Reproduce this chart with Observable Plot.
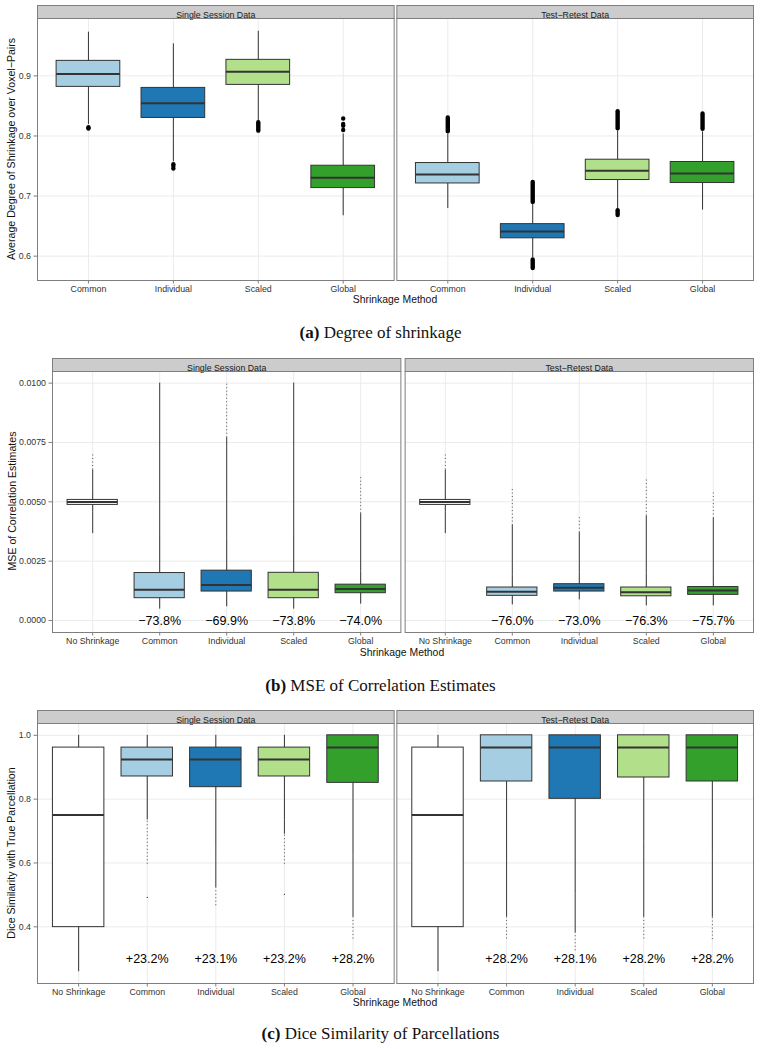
<!DOCTYPE html>
<html><head><meta charset="utf-8">
<script src="https://cdn.jsdelivr.net/npm/d3@7"></script>
<script src="https://cdn.jsdelivr.net/npm/@observablehq/plot@0.6"></script>
<style>
body{margin:0;background:#fff;}
#wrap{position:relative;width:761px;height:1049px;font-family:"Liberation Sans",Arial,sans-serif;overflow:hidden;}
.fig{position:absolute;left:0;}
.xt{position:absolute;font-size:10.4px;color:#111;transform:translateX(-50%);white-space:nowrap;line-height:12px;}
.ylab{position:absolute;font-size:10.6px;color:#111;white-space:nowrap;transform:translate(-50%,-50%) rotate(-90deg);line-height:12px;}
.cap{position:absolute;left:0;width:761px;text-align:center;font-family:"Liberation Serif","DejaVu Serif",serif;font-size:17px;line-height:20px;color:#111;}
</style>
</head><body>
<div id="wrap">
  <div class="fig" id="figA" style="top:0px"></div>
  <div class="ylab" style="left:11px;top:149px">Average Degree of Shrinkage over Voxel−Pairs</div>
  <div class="xt" style="left:395px;top:294px">Shrinkage Method</div>
  <div class="cap" style="top:323px"><b>(a)</b> Degree of shrinkage</div>

  <div class="fig" id="figB" style="top:340px"></div>
  <div class="ylab" style="left:12px;top:501px">MSE of Correlation Estimates</div>
  <div class="xt" style="left:402px;top:647px">Shrinkage Method</div>
  <div class="cap" style="top:676px"><b>(b)</b> MSE of Correlation Estimates</div>

  <div class="fig" id="figC" style="top:690px"></div>
  <div class="ylab" style="left:11px;top:853px">Dice Similarity with True Parcellation</div>
  <div class="xt" style="left:395px;top:997px">Shrinkage Method</div>
  <div class="cap" style="top:1024px"><b>(c)</b> Dice Similarity of Parcellations</div>
</div>
<script>
// ---------- shared categories ----------
const panels = ["Single Session Data", "Test−Retest Data"];
const methodsA = ["Common", "Individual", "Scaled", "Global"];
const methodsBC = ["No Shrinkage", "Common", "Individual", "Scaled", "Global"];
const fillColors = ["#ffffff", "#a6cee3", "#1f78b4", "#b2df8a", "#33a02c"];

// ---------- (a) Degree of shrinkage (order: Single Session x4, Test-Retest x4) ----------
const aQ1  = [0.8817, 0.8300, 0.8850, 0.7133, 0.7210, 0.6297, 0.7267, 0.7217];
const aMed = [0.9033, 0.8543, 0.9067, 0.7305, 0.7360, 0.6410, 0.7422, 0.7377];
const aQ3  = [0.9250, 0.8800, 0.9267, 0.7505, 0.7550, 0.6533, 0.7605, 0.7567];
const aLo  = [0.8190, 0.7570, 0.8235, 0.6672, 0.6793, 0.5975, 0.6780, 0.6767];
const aHi  = [0.9727, 0.9533, 0.9743, 0.8033, 0.8030, 0.6867, 0.8085, 0.8070];
// isolated outliers: [panel index, method, value]
const aDots = [
  [0, "Common", 0.8125], [0, "Common", 0.8145],
  [0, "Individual", 0.746], [0, "Individual", 0.750], [0, "Individual", 0.753],
  [0, "Global", 0.810], [0, "Global", 0.817], [0, "Global", 0.820], [0, "Global", 0.829]
];
// dense outlier clusters: [panel index, method, low, high]
const aClusters = [
  [0, "Scaled", 0.808, 0.822],
  [1, "Common", 0.807, 0.830],
  [1, "Individual", 0.6895, 0.7225], [1, "Individual", 0.5795, 0.5935],
  [1, "Scaled", 0.8120, 0.8405], [1, "Scaled", 0.6675, 0.6755],
  [1, "Global", 0.8110, 0.8365]
];
const aTicks = [0.6, 0.7, 0.8, 0.9];

// ---------- (b) MSE of correlation estimates (Single Session x5, Test-Retest x5) ----------
const bQ1  = [0.00487, 0.00094, 0.00122, 0.00094, 0.00115, 0.00487, 0.00104, 0.00122, 0.00102, 0.00108];
const bMed = [0.00499, 0.00130, 0.00150, 0.00130, 0.00133, 0.00499, 0.00121, 0.00138, 0.00119, 0.00126];
const bQ3  = [0.00508, 0.00200, 0.00210, 0.00201, 0.00151, 0.00508, 0.00139, 0.00153, 0.00139, 0.00141];
const bLo  = [0.00456, 0.00048, 0.00058, 0.00048, 0.00069, 0.00456, 0.00066, 0.00087, 0.00062, 0.00062];
const bHi  = [0.00539, 0.00358, 0.00342, 0.00361, 0.00205, 0.00539, 0.00192, 0.00200, 0.00195, 0.00190];
// outlier streaks: [panel index, method, low, high, dense(1)/sparse(0)]
const bStreaks = [
  [0, "No Shrinkage", 0.00366, 0.00456, 1], [0, "No Shrinkage", 0.00539, 0.00634, 1], [0, "No Shrinkage", 0.00634, 0.00701, 0],
  [0, "Common", 0.00358, 0.0100, 1],
  [0, "Individual", 0.00342, 0.0077, 1], [0, "Individual", 0.0077, 0.0100, 0],
  [0, "Scaled", 0.00361, 0.0100, 1],
  [0, "Global", 0.00205, 0.0045, 1], [0, "Global", 0.0045, 0.00602, 0],
  [1, "No Shrinkage", 0.00366, 0.00456, 1], [1, "No Shrinkage", 0.00539, 0.00634, 1], [1, "No Shrinkage", 0.00634, 0.00701, 0],
  [1, "Common", 0.00192, 0.0040, 1], [1, "Common", 0.0040, 0.00558, 0],
  [1, "Individual", 0.00200, 0.0037, 1], [1, "Individual", 0.0037, 0.00437, 0],
  [1, "Scaled", 0.00195, 0.0044, 1], [1, "Scaled", 0.0044, 0.00596, 0],
  [1, "Global", 0.00190, 0.0043, 1], [1, "Global", 0.0043, 0.00542, 0]
];
const bLabels = ["−73.8%", "−69.9%", "−73.8%", "−74.0%", "−76.0%", "−73.0%", "−76.3%", "−75.7%"];
const bLabelY = 0.0;
const bTicks = [0.0000, 0.0025, 0.0050, 0.0075, 0.0100];

// ---------- (c) Dice similarity (Single Session x5, Test-Retest x5) ----------
const cQ1  = [0.399, 0.871, 0.8375, 0.871, 0.851, 0.399, 0.8553, 0.801, 0.8678, 0.8553];
const cMed = [0.750, 0.924, 0.924, 0.924, 0.9615, 0.750, 0.9615, 0.9615, 0.9615, 0.9615];
const cQ3  = [0.9615, 0.9615, 0.9615, 0.9615, 1.0, 0.9615, 1.0, 1.0, 1.0, 1.0];
const cLo  = [0.2594, 0.735, 0.649, 0.735, 0.626, 0.2594, 0.636, 0.5025, 0.668, 0.636];
const cHi  = [1.0, 1.0, 1.0, 1.0, 1.0, 1.0, 1.0, 1.0, 1.0, 1.0];
const cStreaks = [
  [0, "Common", 0.596, 0.735, 0],
  [0, "Individual", 0.523, 0.649, 1], [0, "Individual", 0.466, 0.523, 0],
  [0, "Scaled", 0.690, 0.735, 1], [0, "Scaled", 0.596, 0.690, 0],
  [0, "Global", 0.430, 0.626, 1], [0, "Global", 0.362, 0.430, 0],
  [1, "Common", 0.430, 0.636, 1], [1, "Common", 0.362, 0.430, 0],
  [1, "Individual", 0.380, 0.5025, 1], [1, "Individual", 0.325, 0.380, 0],
  [1, "Scaled", 0.430, 0.668, 1], [1, "Scaled", 0.362, 0.430, 0],
  [1, "Global", 0.430, 0.636, 1], [1, "Global", 0.360, 0.430, 0]
];
const cDots = [[0, "Common", 0.4925], [0, "Scaled", 0.502]];
const cLabels = ["+23.2%", "+23.1%", "+23.2%", "+28.2%", "+28.2%", "+28.1%", "+28.2%", "+28.2%"];
const cLabelY = 0.3;
const cTicks = [0.4, 0.6, 0.8, 1.0];

// ---------- helpers ----------
function boxRows(methods, q1, med, q3, lo, hi) {
  const rows = [];
  panels.forEach((p, pi) => methods.forEach((m, mi) => {
    const i = pi * methods.length + mi;
    rows.push({panel: p, method: m, q1: q1[i], med: med[i], q3: q3[i], lo: lo[i], hi: hi[i]});
  }));
  return rows;
}
function labelRows(methods, labels, y) {
  const ms = methods.filter(m => m !== "No Shrinkage");
  const rows = [];
  panels.forEach((p, pi) => ms.forEach((m, mi) => rows.push({panel: p, method: m, label: labels[pi * ms.length + mi], y})));
  return rows;
}
const rng = arr => arr.map(([pi, m, lo, hi, dense]) => ({panel: panels[pi], method: m, lo, hi, dense}));
const pts = arr => arr.map(([pi, m, v]) => ({panel: panels[pi], method: m, v}));

function figure(o) {
  const MB = 16;
  const innerH = o.height - o.marginTop - MB;
  const streaks = rng(o.streaks || []);
  const marks = [
    Plot.frame({fill: "#cccccc", stroke: "#7f7f7f", insetTop: -13, insetBottom: innerH}),
    Plot.text(panels, {fx: d => d, text: d => d, frameAnchor: "top", dy: -6.5, fontSize: 8.8, fill: "#1a1a1a"}),
    Plot.gridY(o.ticks, {stroke: "#ebebeb", strokeOpacity: 1}),
    Plot.gridX({stroke: "#ebebeb", strokeOpacity: 1}),
    Plot.axisY(o.ticks, {tickFormat: o.format, tickSize: 3.5, tickPadding: 3, fontSize: 8.8, stroke: "#7f7f7f", fill: "#333", label: null}),
    Plot.axisX({tickSize: 3.5, tickPadding: 1.5, fontSize: 8.8, stroke: "#7f7f7f", fill: "#333", label: null}),
    Plot.ruleX(o.rows, {fx: "panel", x: "method", y1: "lo", y2: "hi", stroke: "#333", strokeWidth: 1}),
    Plot.ruleX(streaks.filter(d => d.dense), {fx: "panel", x: "method", y1: "lo", y2: "hi", stroke: "#3a3a3a", strokeWidth: 1}),
    Plot.ruleX(streaks.filter(d => !d.dense), {fx: "panel", x: "method", y1: "lo", y2: "hi", stroke: "#555", strokeWidth: 1, strokeDasharray: "1,2.5"})
  ];
  if (o.clusters) marks.push(Plot.ruleX(o.clusters.map(([pi, m, lo, hi]) => ({panel: panels[pi], method: m, lo, hi})),
    {fx: "panel", x: "method", y1: "lo", y2: "hi", stroke: "#000", strokeWidth: 4.4, strokeLinecap: "round"}));
  if (o.dots) marks.push(Plot.dot(pts(o.dots), {fx: "panel", x: "method", y: "v", r: o.dotR, fill: "#000", stroke: "none"}));
  marks.push(
    Plot.barY(o.rows, {fx: "panel", x: "method", y1: "q1", y2: "q3", fill: "method", stroke: "#333", strokeWidth: 1}),
    Plot.tickY(o.rows, {fx: "panel", x: "method", y: "med", stroke: "#333", strokeWidth: 2})
  );
  if (o.labels) marks.push(Plot.text(o.labels, {fx: "panel", x: "method", y: "y", text: "label", fontSize: 12.5, fill: "#000"}));
  marks.push(Plot.frame({stroke: "#7f7f7f"}));
  return Plot.plot({
    width: 761, height: o.height,
    marginLeft: o.marginLeft, marginRight: 8, marginTop: o.marginTop, marginBottom: MB,
    style: {fontFamily: "'Liberation Sans', Arial, sans-serif", background: "transparent", color: "#1a1a1a"},
    fx: {domain: panels, paddingInner: o.fxPad, paddingOuter: 0, round: false, axis: null, label: null},
    x: {domain: o.methods, paddingInner: 0.25, paddingOuter: 0.225, round: false, label: null},
    y: {domain: o.domain, label: null},
    color: {domain: methodsBC, range: fillColors},
    marks
  });
}

document.getElementById("figA").appendChild(figure({
  methods: methodsA, rows: boxRows(methodsA, aQ1, aMed, aQ3, aLo, aHi),
  clusters: aClusters, dots: aDots, dotR: 2.2,
  domain: [0.5595, 0.9955], ticks: aTicks, format: d3.format(".1f"),
  height: 296, marginTop: 18, marginLeft: 37, fxPad: 0.0075
}));
document.getElementById("figB").appendChild(figure({
  methods: methodsBC, rows: boxRows(methodsBC, bQ1, bMed, bQ3, bLo, bHi),
  streaks: bStreaks, labels: labelRows(methodsBC, bLabels, bLabelY),
  domain: [-0.000505, 0.01049], ticks: bTicks, format: d3.format(".4f"),
  height: 308, marginTop: 31, marginLeft: 52, fxPad: 0.012
}));
document.getElementById("figC").appendChild(figure({
  methods: methodsBC, rows: boxRows(methodsBC, cQ1, cMed, cQ3, cLo, cHi),
  streaks: cStreaks, dots: cDots, dotR: 0.6, labels: labelRows(methodsBC, cLabels, cLabelY),
  domain: [0.2224, 1.037], ticks: cTicks, format: d3.format(".1f"),
  height: 309, marginTop: 33, marginLeft: 37, fxPad: 0.0075
}));
</script>
</body></html>
